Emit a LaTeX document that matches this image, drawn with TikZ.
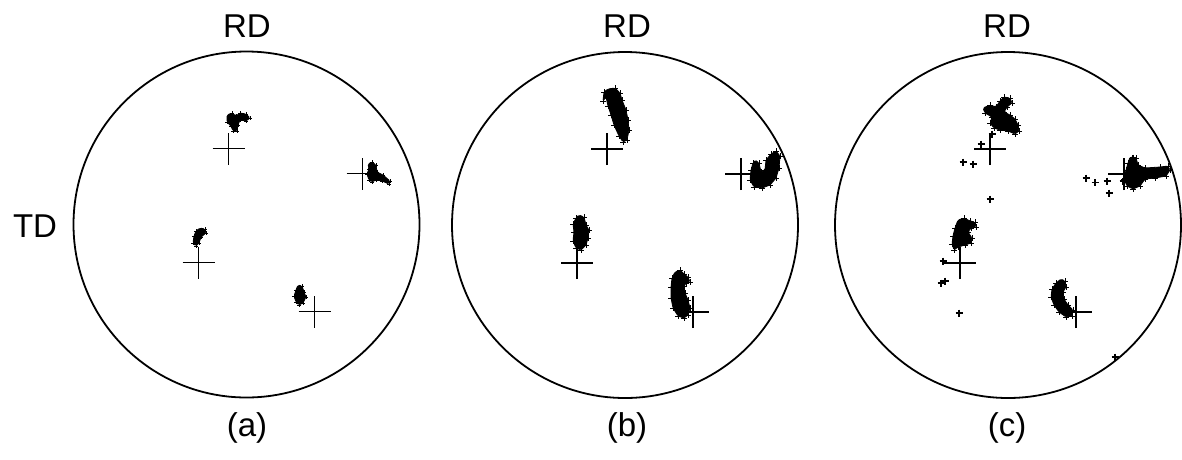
\documentclass[tikz,border=0pt]{standalone}
\usepackage{fontspec}
\setmainfont{Liberation Sans}
\newcommand\myblob[3]{%
  \fill[blob] (#2) \foreach \x/\y in {#3}{-- (\x,\y)} -- cycle;
  \foreach \x/\y in {#3} \pic at (\x,\y) {#1};}
\begin{document}
\begin{tikzpicture}[x=1pt,y=-1pt,
  pole/.style={draw=black,line width=1.8pt},
  crossline/.style={draw=black,line width=1.5pt},
  blob/.style={fill=black,draw=black,line width=0.8pt,rounded corners=1.5pt},
  lab/.style={font=\fontsize{33}{38}\selectfont,inner sep=0pt},
  sp/.pic={\draw[line width=1.1pt] (-3.5,0) -- (3.5,0) (0,-3.5) -- (0,3.5);},
  sq/.pic={\draw[line width=1pt] (-3,0) -- (3,0) (0,-3) -- (0,3);},
  sa/.pic={\draw[line width=1pt] (-2,0) -- (2,0) (0,-2) -- (0,2);}
]
\useasboundingbox (0,0) rectangle (1182,459);

% ---------- circles ----------
\coordinate (ca) at (246.5,224.5);
\coordinate (cb) at (625,225);
\coordinate (cc) at (1008,225);
\foreach \c in {ca,cb,cc} \draw[pole] (\c) circle[radius=173pt];

% ---------- labels ----------
\node[lab] (rda) at (247,26) {RD};
\node[lab] (rdb) at (627,26) {RD};
\node[lab] (rdc) at (1007,26) {RD};
\node[lab] (td) at (35,226) {TD};
\node[lab] (la) at (247,428) {(a)};
\node[lab] (lb) at (627,428) {(b)};
\node[lab] (lc) at (1007,428) {(c)};

% ---------- crosses ----------
\foreach \n/\x/\y in {a1/228.5/148.5, a2/362.5/173.5, a3/198.5/262.5, a4/314.5/311.5,
                      b1/607/149, b2/741/174, b3/577/263, b4/693/312,
                      c1/990/149, c2/1124/174, c3/960/263, c4/1076/312}{
  \coordinate (\n) at (\x,\y);
  \draw[crossline] ([xshift=-16pt]\n) -- ([xshift=16pt]\n);
  \draw[crossline] ([yshift=-16pt]\n) -- ([yshift=16pt]\n);
}

% ---------- panel (a) clusters ----------
\myblob{sa}{227,115}{232/113, 236/116, 240/113, 246/114, 250/118, 246/121, 240/120, 238/125, 237/131, 233/131, 231/126, 227/122}
\myblob{sa}{368,164}{372/162, 376/165, 377/172, 383/175, 390/181, 389/184, 382/181, 376/180, 372/182, 369/180, 367/174, 369/169}
\myblob{sa}{200,228}{205/229, 206/233, 201/237, 199/243, 196/246, 193/243, 194/236, 196/231}
\myblob{sa}{298,285}{302/286, 304/292, 306/297, 303/303, 299/305, 296/302, 294/296, 296/290}

% ---------- panel (b) clusters ----------
\myblob{sq}{608,89}{615/88, 620/93, 622/100, 626/110, 628/120, 629/130, 627/140, 623/142, 619/136, 614/125, 611/115, 608/106, 606/97, 603/101, 604/92}
\myblob{sq}{755,160}{759/163, 761/172, 765/170, 766/160, 771/154, 776/151, 780/156, 779/168, 776/178, 770/185, 762/188, 754/187, 750/180, 751/170, 753/163}
\myblob{sq}{579,215}{584/217, 586/225, 589/230, 588/238, 586/245, 581/250, 576/248, 573/241, 574/232, 573/224, 576/218}
\myblob{sq}{675,272}{680/270, 684/274, 688/277, 690/282, 686/283, 684/286, 685/293, 688/300, 690/308, 688/315, 684/318, 678/316, 673/308, 671/298, 671/287, 672/278}

% ---------- panel (c) clusters ----------
\myblob{sq}{983,108}{990/105, 996/107, 1000/101, 1004/97, 1010/98, 1012/103, 1007/107, 1004/112, 1010/115, 1015/119, 1018/125, 1019/131, 1015/134, 1008/131, 1000/130, 994/128, 990/123, 992/117, 985/113}
\myblob{sq}{1130,157}{1136/158, 1138/165, 1145/168, 1160/167, 1168/166, 1170/170, 1166/176, 1155/178, 1145/179, 1140/186, 1133/189, 1127/186, 1124/179, 1126/170, 1128/163}
\myblob{sq}{958,220}{964/218, 970/221, 975/222, 976/227, 971/228, 968/232, 972/238, 971/243, 965/245, 958/247, 954/250, 952/244, 953/236, 955/228}
\myblob{sq}{1061,279}{1065/281, 1066/287, 1063/292, 1064/299, 1068/305, 1073/310, 1072/316, 1066/317, 1059/312, 1054/305, 1051/297, 1052/289, 1056/283}
\foreach \x/\y in {981/144, 992/134, 963/162, 973/164, 990/199,
                   1086/178, 1095/182.5, 1107/181, 1109/193, 1123/181, 1133/158,
                   943/261, 941/283, 945/281, 959/313, 1115/357}
  \pic at (\x,\y) {sp};
\end{tikzpicture}
\end{document}
